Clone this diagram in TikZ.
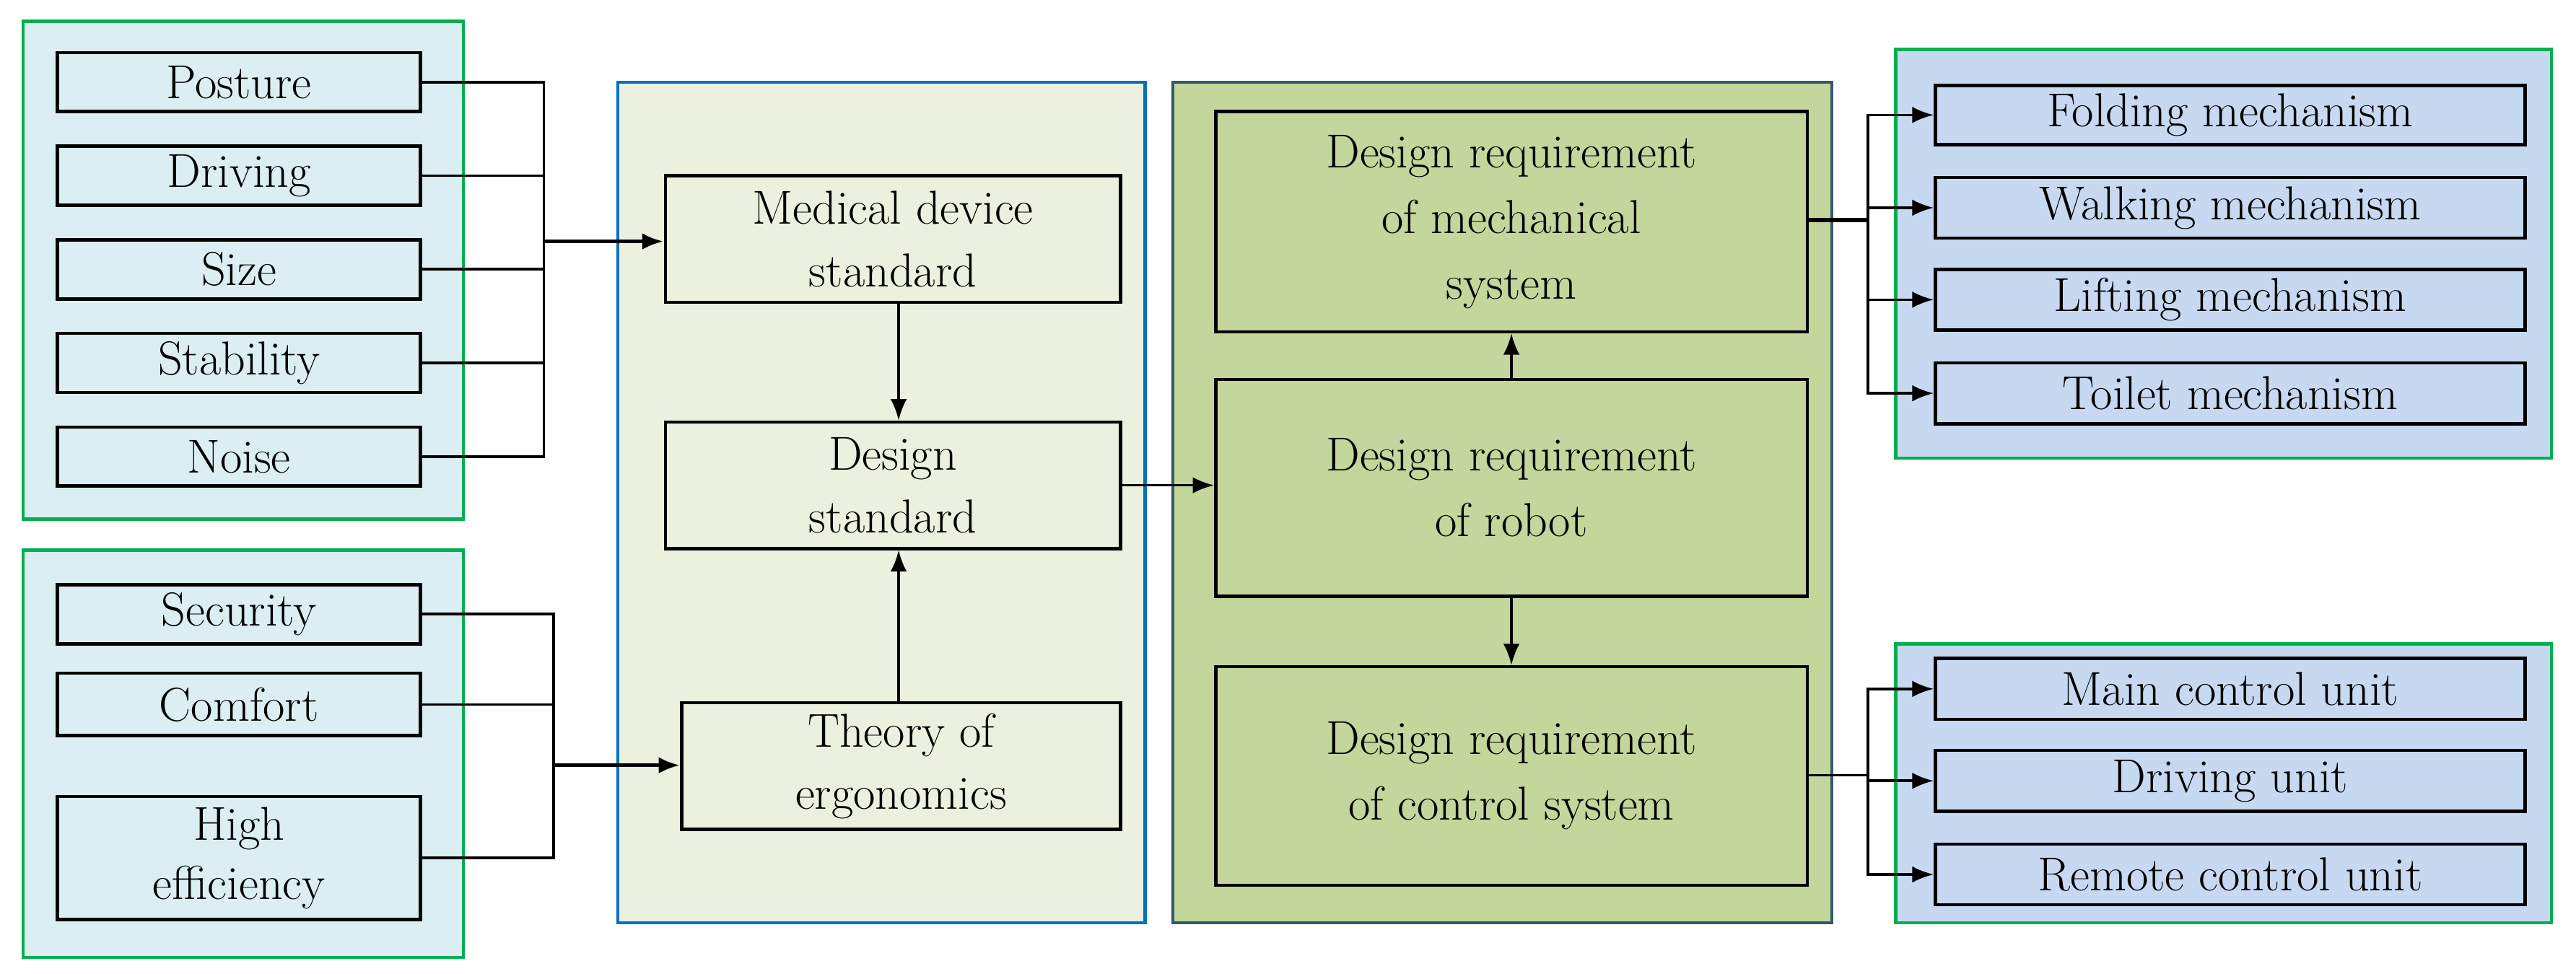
\documentclass[tikz,border=0pt]{standalone}
\usetikzlibrary{arrows.meta}
\definecolor{lblue}{HTML}{DAEEF3}
\definecolor{rblue}{HTML}{C6D9F1}
\definecolor{mid}{HTML}{EBF1DE}
\definecolor{rgreen}{HTML}{C3D69B}
\definecolor{gborder}{HTML}{00B050}
\definecolor{bborder}{HTML}{0070C0}
\definecolor{dborder}{HTML}{31596B}
\begin{document}
\begin{tikzpicture}[x=1pt,y=-1pt,
 grp/.style={draw=gborder,line width=2pt},
 box/.style={draw=black,line width=2pt,font=\fontsize{29}{33}\selectfont,align=center},
 ln/.style={line width=1.6pt},
 arr/.style={line width=1.6pt,-{Latex[length=13pt,width=10pt]}}]
\useasboundingbox (0,0) rectangle (1568,593);
\fill[lblue] (14,13) rectangle (282,316); \draw[grp] (14,13) rectangle (282,316);
\fill[lblue] (14,335) rectangle (282,583); \draw[grp] (14,335) rectangle (282,583);
\draw[bborder,line width=2pt,fill=mid] (376,50) rectangle (697,562);
\draw[dborder,line width=2pt,fill=rgreen] (714,50) rectangle (1115,562);
\fill[rblue] (1154,30) rectangle (1553,279); \draw[grp] (1154,30) rectangle (1553,279);
\fill[rblue] (1154,392) rectangle (1553,562); \draw[grp] (1154,392) rectangle (1553,562);
\foreach \n/\t/\a/\b in {p/Posture/32/68,d/Driving/89/125,s/Size/146/182,st/Stability/203/239,no/Noise/260/296,se/Security/356/392,co/Comfort/410/448}
 \node[box,fill=lblue,minimum width=221pt,minimum height={\b-\a},inner sep=0pt] (\n) at (145.5,{(\a+\b)/2}) {\t};
\node[box,fill=lblue,minimum width=221pt,minimum height=75pt,inner sep=0pt,font=\fontsize{29}{36}\selectfont] (he) at (145.5,522.5) {High\\efficiency};
\node[box,fill=mid,minimum width=277pt,minimum height=77pt,inner sep=0pt,font=\fontsize{29}{38}\selectfont] (mds) at (543.5,145.5) {Medical device\\standard};
\node[box,fill=mid,minimum width=277pt,minimum height=77pt,inner sep=0pt,font=\fontsize{29}{38}\selectfont] (ds) at (543.5,295.5) {Design\\standard};
\node[box,fill=mid,minimum width=267pt,minimum height=77pt,inner sep=0pt,font=\fontsize{29}{38}\selectfont] (te) at (548.5,466.5) {Theory of\\ergonomics};
\node[box,fill=rgreen,minimum width=360pt,minimum height=134pt,inner sep=0pt,font=\fontsize{29}{40}\selectfont] (mech) at (920,135) {Design requirement\\of mechanical\\system};
\node[box,fill=rgreen,minimum width=360pt,minimum height=132pt,inner sep=0pt,font=\fontsize{29}{40}\selectfont] (rob) at (920,297) {Design requirement\\of robot};
\node[box,fill=rgreen,minimum width=360pt,minimum height=133pt,inner sep=0pt,font=\fontsize{29}{40}\selectfont] (ctl) at (920,472.5) {Design requirement\\of control system};
\foreach \n/\t/\a/\b in {f/Folding mechanism/52/88,w/Walking mechanism/108/145,l/Lifting mechanism/164/201,to/Toilet mechanism/221/258,mc/Main control unit/401/438,du/Driving unit/457/494,rc/Remote control unit/514/551}
 \node[box,fill=rblue,minimum width=359pt,minimum height={\b-\a},inner sep=0pt] (\n) at (1357.5,{(\a+\b)/2}) {\t};
\coordinate (j1) at (331,147);
\foreach \n in {p,d,s,st,no} \draw[ln] (\n.east) -| (331,147);
\draw[arr,line width=2.4pt] (j1) -- (mds.west|-j1);
\coordinate (j2) at (337,466);
\foreach \n in {se,co,he} \draw[ln] (\n.east) -| (j2);
\draw[arr,line width=2.4pt] (j2) -- (te.west|-j2);
\coordinate (cx) at (547,0);
\draw[arr] (mds.south-|cx) -- (ds.north-|cx);
\draw[arr] (te.north-|cx) -- (ds.south-|cx);
\draw[arr] (ds.east) -- (rob.west|-ds.east);
\draw[arr] (rob) -- (mech);
\draw[arr] (rob) -- (ctl);
\coordinate (j3) at (1137,134);
\draw[ln,line width=2.4pt] (mech.east|-j3) -- (j3);
\foreach \n in {f,w,l,to} \draw[arr] (j3) |- (\n.west);
\coordinate (j4) at (1137,472);
\draw[ln] (ctl.east|-j4) -- (j4);
\foreach \n in {mc,du,rc} \draw[arr] (j4) |- (\n.west);
\end{tikzpicture}
\end{document}
